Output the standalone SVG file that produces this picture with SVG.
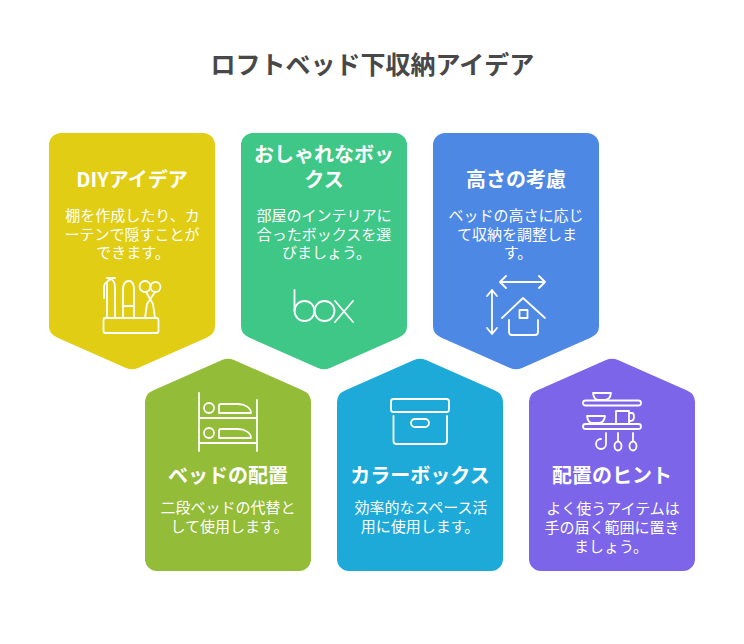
<svg xmlns="http://www.w3.org/2000/svg" width="744" height="644" viewBox="0 0 744 644">
<style>
text{font-family:"Noto Sans CJK JP","Noto Sans",sans-serif;text-anchor:middle}
.t{font-size:25px;font-weight:700;fill:#484848}
.h{font-size:20px;font-weight:700;fill:#fff}
.b{font-size:15px;fill:#fff}
.i{fill:none;stroke:#fff;stroke-width:1.8;stroke-linecap:round;stroke-linejoin:round}
</style>
<defs>
<path id="down" d="M12 0H154A12 12 0 0 1 166 12V193Q166 201 158 204.500L89 235Q83 237.500 77 235L8 204.500Q0 201 0 193V12A12 12 0 0 1 12 0Z"/>
<path id="up" d="M77 2Q83 -0.500 89 2L158 32.500Q166 36 166 44V201A12 12 0 0 1 154 213H12A12 12 0 0 1 0 201V44Q0 36 8 32.500Z"/>
</defs>
<rect width="744" height="644" fill="#fff"/>
<text class="t" x="372.500" y="74">ロフトベッド下収納アイデア</text>
<g id="node-diy">
<use href="#down" x="49" y="133" fill="#e0cd14"/>
<text class="h" x="132" y="187">DIYアイデア</text>
<text class="b" x="132.500" y="221">棚を作成したり、カ</text>
<text class="b" x="132" y="239.500">ーテンで隠すことが</text>
<text class="b" x="133" y="258">できます。</text>
<g class="i">
<rect x="103.500" y="318" width="55" height="15" rx="2"/>
<path d="M104 298V288Q104 283 107 282V318M107 282Q110 279 111 279Q115 281 115 287V318M111 279V278M107 278H115"/>
<path d="M123 318V290Q123 281 129 281Q134 281 134 290V318M123 306H134"/>
<path d="M145 318L147 304L155 292M155 318L153 304L146 292"/>
<circle cx="145" cy="286.500" r="5.500"/>
<circle cx="155.500" cy="287" r="5"/>
</g>
</g>
<g id="node-box">
<use href="#down" x="241" y="133" fill="#3ec786"/>
<text class="h" x="324" y="162">おしゃれなボッ</text>
<text class="h" x="324" y="187">クス</text>
<text class="b" x="324" y="221">部屋のインテリアに</text>
<text class="b" x="324" y="239.500">合ったボックスを選</text>
<text class="b" x="326.500" y="258">びましょう。</text>
<g class="i" stroke-width="1.500">
<path d="M294.500 290V311"/>
<circle cx="304.500" cy="311" r="10"/>
<circle cx="324.500" cy="311" r="10"/>
<path d="M335 301L353 322M353 301L335 322"/>
</g>
</g>
<g id="node-height">
<use href="#down" x="433" y="133" fill="#4e88e5"/>
<text class="h" x="516" y="187">高さの考慮</text>
<text class="b" x="516" y="221">ベッドの高さに応じ</text>
<text class="b" x="517" y="239.500">て収納を調整しま</text>
<text class="b" x="518" y="258">す。</text>
<g class="i">
<path d="M500 282H545M506 276L500 282L506 288M539 276L545 282L539 288"/>
<path d="M492 290V334M487 296L492 290L497 296M487 328L492 334L497 328"/>
<path d="M502 318L523 298L545 318M509 320V332Q509 335 512 335H535Q538 335 538 332V320"/>
<rect x="519.500" y="310" width="8" height="8"/>
</g>
</g>
<g id="node-bed">
<use href="#up" x="145" y="358" fill="#93bc38"/>
<text class="h" x="228" y="483">ベッドの配置</text>
<text class="b" x="228" y="513">二段ベッドの代替と</text>
<text class="b" x="229.500" y="532">して使用します。</text>
<g class="i">
<path d="M199 393V451M257 400V451M199 418H257M199 443H257"/>
<circle cx="209" cy="408" r="5"/>
<circle cx="209" cy="433" r="5"/>
<path d="M219 413V406Q219 404 221 404H238C245 404 251 408 251 413Z"/>
<path d="M219 438V431Q219 429 221 429H238C245 429 251 433 251 438Z"/>
</g>
</g>
<g id="node-color">
<use href="#up" x="337" y="358" fill="#1eaad9"/>
<text class="h" x="420" y="483">カラーボックス</text>
<text class="b" x="421" y="513">効率的なスペース活</text>
<text class="b" x="420" y="532">用に使用します。</text>
<g class="i">
<rect x="391" y="399" width="58" height="13" rx="2.500"/>
<path d="M393.500 416V441Q393.500 444 396.500 444H444Q447 444 447 441V416"/>
<rect x="411" y="419" width="18" height="8" rx="4"/>
</g>
</g>
<g id="node-hint">
<use href="#up" x="529" y="358" fill="#7c65e8"/>
<text class="h" x="612" y="483">配置のヒント</text>
<text class="b" x="613" y="513.500">よく使うアイテムは</text>
<text class="b" x="612" y="532.500">手の届く範囲に置き</text>
<text class="b" x="611" y="551.500">ましょう。</text>
<g class="i">
<rect x="583" y="400.500" width="58" height="5" rx="2.500"/>
<rect x="583" y="424" width="58" height="5" rx="2.500"/>
<path d="M593 393H611Q610 400 605 400H598Q594 400 593 393Z"/>
<path d="M587 416H605Q604 423 599 423H592Q588 423 587 416Z"/>
<path d="M616 424V411H629V424M629 413H632Q634 413 634 417Q634 421 630 421H629"/>
<path d="M606 433V444A5 5 0 1 1 601 439"/>
<ellipse cx="618" cy="446" rx="3.500" ry="4.500"/>
<ellipse cx="633" cy="446" rx="3.500" ry="4.500"/>
<path d="M618 433V441M633 433V441"/>
</g>
</g>
</svg>
